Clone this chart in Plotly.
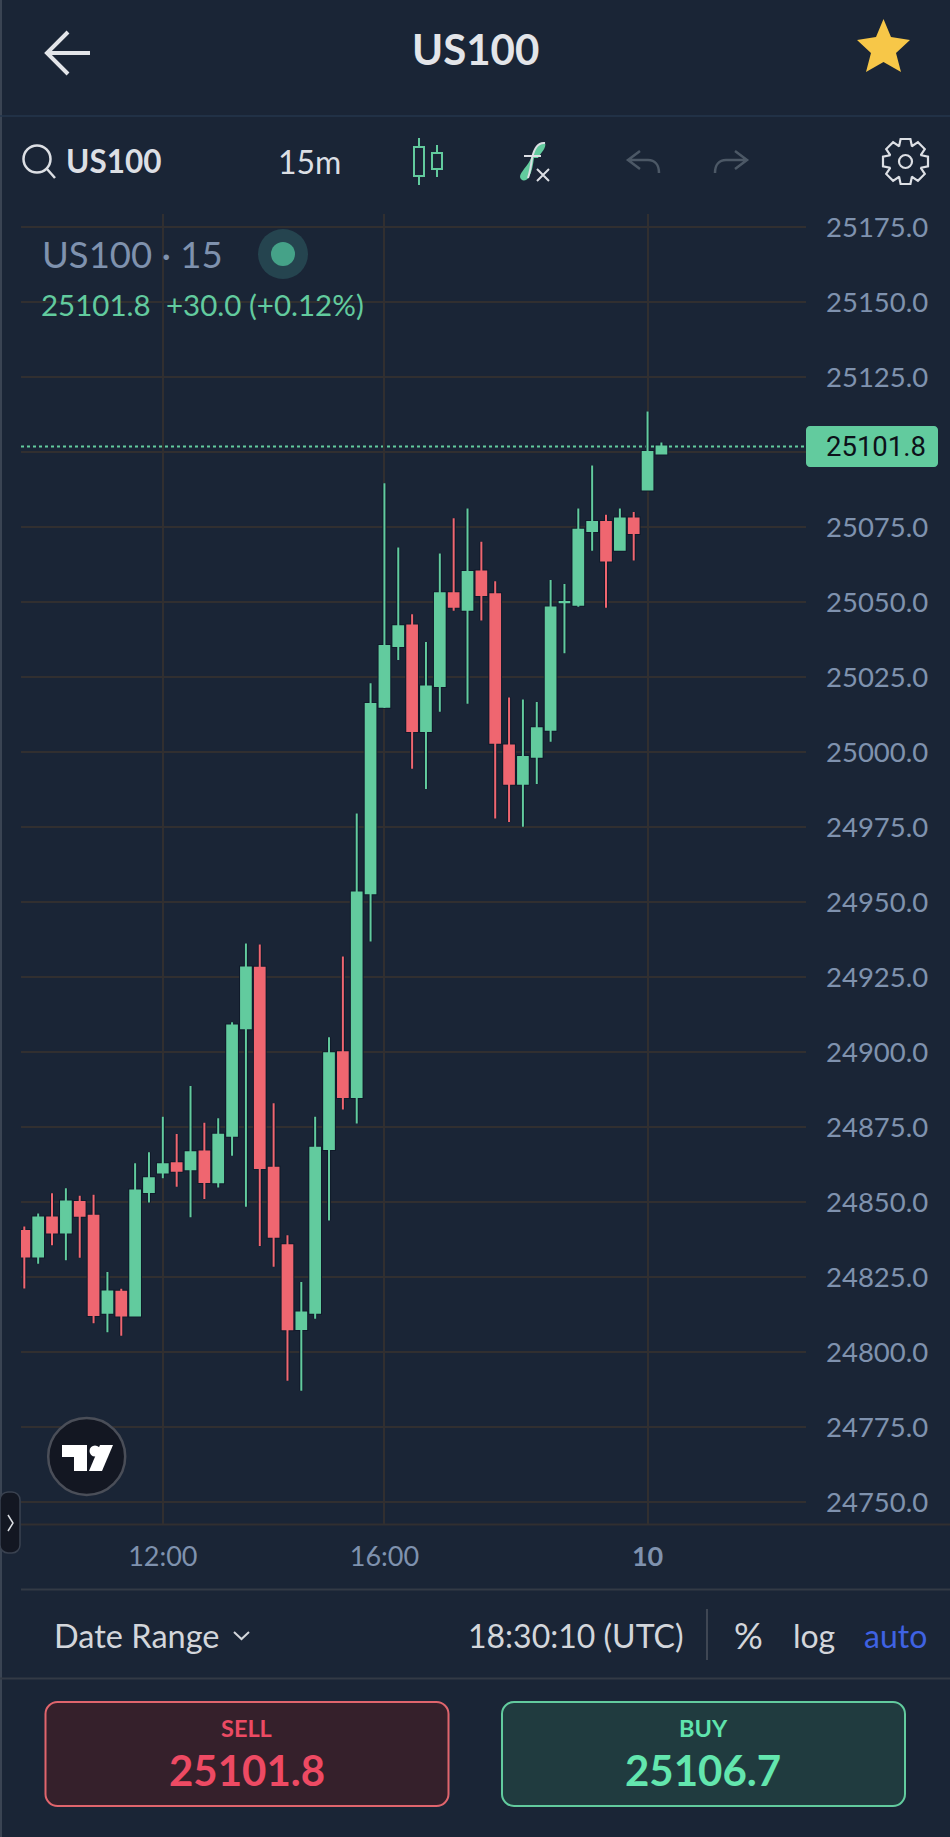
import math

import plotly.graph_objects as go

W = 950
H = 1837

BG = "#1a2536"
GREEN = "#62cb9e"
RED = "#ef6670"
GRID = "#312f30"
AXIS_TEXT = "#7f92ae"
LIGHT = "#dcdfe4"

# 15 minute bars
bars = list(range(47))
opens = [
    24840.3, 24831.8, 24844.8, 24839.8, 24850.0, 24845.4, 24813.1, 24820.1, 24812.2, 24853.3,
    24859.8, 24862.9, 24860.9, 24866.8, 24856.6, 24872.1, 24907.9, 24928.1, 24861.4, 24835.6,
    24807.7, 24813.1, 24867.7, 24899.9, 24885.0, 24952.9, 25015.1, 25035.3, 25042.2, 25007.0,
    25022.0, 25052.9, 25047.4, 25060.2, 25052.6, 25002.2, 24989.4, 24998.4, 25007.4, 25049.9,
    25049.1, 25073.7, 25076.7, 25067.4, 25077.8, 25087.5, 25099.5,
]
highs = [
    24841.8, 24846.2, 24852.9, 24854.6, 24852.1, 24852.4, 24826.7, 24821.1, 24862.9, 24866.6,
    24878.4, 24872.7, 24888.7, 24876.4, 24877.9, 24909.9, 24936.2, 24935.8, 24882.9, 24838.9,
    24823.3, 24878.4, 24904.9, 24931.8, 24979.5, 25022.9, 25089.6, 25068.2, 25045.9, 25036.7,
    25066.2, 25077.9, 25081.2, 25070.1, 25056.9, 25018.2, 25017.5, 25016.7, 25057.3, 25056.0,
    25081.2, 25095.5, 25079.1, 25081.2, 25080.0, 25113.5, 25103.2,
]
lows = [
    24821.2, 24829.4, 24835.6, 24830.6, 24831.4, 24809.6, 24806.6, 24805.4, 24811.8, 24849.8,
    24857.9, 24855.1, 24844.9, 24851.0, 24854.8, 24865.4, 24848.4, 24835.3, 24828.4, 24790.4,
    24787.1, 24811.1, 24843.8, 24880.8, 24876.2, 24936.8, 25014.7, 25030.7, 24994.4, 24987.7,
    25013.4, 25047.1, 25016.1, 25043.8, 24977.8, 24976.7, 24975.1, 24989.3, 25003.4, 25032.9,
    25048.4, 25067.1, 25048.1, 25067.4, 25063.8, 25087.5, 25099.5,
]
closes = [
    24831.8, 24844.8, 24839.8, 24850.2, 24845.4, 24812.3, 24820.2, 24812.2, 24853.8, 24857.9,
    24862.6, 24860.4, 24866.6, 24856.7, 24872.4, 24908.8, 24928.2, 24861.3, 24838.4, 24807.6,
    24813.2, 24868.1, 24899.6, 24885.0, 24953.2, 25016.0, 25035.3, 25041.9, 25007.0, 25021.8,
    25052.9, 25048.4, 25060.0, 25052.3, 25003.1, 24989.4, 24998.3, 25007.9, 25048.2, 25050.0,
    25074.1, 25076.7, 25063.8, 25077.8, 25073.0, 25100.0, 25101.8,
]
last_price = 25101.8

price_ticks = [24750 + 25 * n for n in range(18)]
# the 25100 label sits under the last price tag
price_labels = ["" if p == 25100 else f"{p:.1f}" for p in price_ticks]
time_ticks = [10, 26, 45]
time_labels = ["12:00", "16:00", "<b>10</b>"]


def px(x):
    return x / W


def py(y):
    return 1 - y / H


def pp(d):
    # path written in screen pixels, turned into paper coordinates
    out = []
    is_x = True
    for tok in d.split():
        if tok.isalpha():
            out.append(tok)
            is_x = True
        else:
            out.append(str(round(px(float(tok)) if is_x else py(float(tok)), 5)))
            is_x = not is_x
    return " ".join(out)


def rounded(x0, y0, x1, y1, r):
    c = r * 0.45
    return (
        f"M {x0 + r} {y0} L {x1 - r} {y0} C {x1 - c} {y0} {x1} {y0 + c} {x1} {y0 + r} "
        f"L {x1} {y1 - r} C {x1} {y1 - c} {x1 - c} {y1} {x1 - r} {y1} "
        f"L {x0 + r} {y1} C {x0 + c} {y1} {x0} {y1 - c} {x0} {y1 - r} "
        f"L {x0} {y0 + r} C {x0} {y0 + c} {x0 + c} {y0} {x0 + r} {y0} Z"
    )


def gear(cx, cy, r_out, r_in, teeth=8):
    pts = []
    for n in range(teeth):
        a = 2 * math.pi * n / teeth
        step = 2 * math.pi / teeth
        for da, r in [(-0.30, r_in), (-0.17, r_out), (0.17, r_out), (0.30, r_in)]:
            t = a + da * step * 1.6
            pts.append((cx + r * math.cos(t), cy + r * math.sin(t)))
    return "M " + " L ".join(f"{round(x, 1)} {round(y, 1)}" for x, y in pts) + " Z"


shapes = []
annotations = []


def icon(d, color=None, width=0, fill=None):
    shapes.append(dict(
        type="path", xref="paper", yref="paper", path=pp(d),
        line=dict(color=color or "rgba(0,0,0,0)", width=width),
        fillcolor=fill or "rgba(0,0,0,0)", layer="above",
    ))


def circle(cx, cy, r, color=None, width=0, fill=None):
    shapes.append(dict(
        type="circle", xref="paper", yref="paper",
        x0=px(cx - r), x1=px(cx + r), y0=py(cy + r), y1=py(cy - r),
        line=dict(color=color or "rgba(0,0,0,0)", width=width),
        fillcolor=fill or "rgba(0,0,0,0)", layer="above",
    ))


def label(x, y, text, size, color, anchor="left", font="Lato"):
    annotations.append(dict(
        xref="paper", yref="paper", x=px(x), y=py(y), text=text, showarrow=False,
        xanchor=anchor, yanchor="middle", borderpad=0,
        font=dict(family=font, size=size, color=color),
    ))


# dark edge round the candles, then the candles
fig = go.Figure()
fig.add_trace(go.Candlestick(
    x=bars, open=opens, high=highs, low=lows, close=closes,
    increasing=dict(line=dict(color="#101a2a", width=4), fillcolor="#101a2a"),
    decreasing=dict(line=dict(color="#101a2a", width=4), fillcolor="#101a2a"),
    whiskerwidth=0, hoverinfo="skip",
))
fig.add_trace(go.Candlestick(
    x=bars, open=opens, high=highs, low=lows, close=closes,
    increasing=dict(line=dict(color=GREEN, width=2), fillcolor=GREEN),
    decreasing=dict(line=dict(color=RED, width=2), fillcolor=RED),
    whiskerwidth=0, hoverinfo="skip",
))

# rules and frame
for x0, y0, x1, y1, color, width in [
    (1, 0, 1, H, "#3a4453", 2),
    (0, 116, W, 116, "#25364c", 1.5),
    (21, 1524.5, W, 1524.5, GRID, 2),
    (21, 1589.5, W, 1589.5, "#333a45", 2),
    (0, 1678.5, W, 1678.5, "#333a45", 2),
    (707, 1609, 707, 1660, "#3f4754", 2),
]:
    shapes.append(dict(type="line", xref="paper", yref="paper",
                       x0=px(x0), x1=px(x1), y0=py(y0), y1=py(y1),
                       line=dict(color=color, width=width), layer="above"))

# last price line and its tag
shapes.append(dict(type="line", xref="paper", yref="y", x0=px(21), x1=px(806),
                   y0=last_price, y1=last_price, layer="below",
                   line=dict(color=GREEN, width=2, dash="dot")))
icon(rounded(806, 426, 938, 467, 4), fill=GREEN)
label(825, 447, f"{last_price}", 27.5, "#0d1119", font="Roboto")

# header
icon("M 68 32 L 47 53 L 68 74 M 47 53 L 90 53", "#e3e5e9", 4)
label(475, 49, "<b>US100</b>", 42, "#e3e5e9", "center")
icon("M 883.5 19 L 891 37 L 910 40 L 896 53 L 901 72 L 883.5 62 L 866 72 L 871 53 L 857 40 L 876 37 Z",
     fill="#f7c748")

# toolbar
circle(37, 159, 13.5, LIGHT, 2.5)
icon("M 47 169 L 55 178", LIGHT, 2.5)
label(65, 161, "<b>US100</b>", 31.5, LIGHT)
label(277, 162, "15m", 32, LIGHT)
icon("M 414 147 L 424 147 L 424 176 L 414 176 Z M 419 138 L 419 147 M 419 176 L 419 185 "
     "M 432 153 L 442 153 L 442 169 L 432 169 Z M 437 145 L 437 153 M 437 169 L 437 177",
     GREEN, 2)
icon("M 545 143 C 538 142 534 149 532 158 L 538 158 C 541 153 547 147 545 143 Z", fill=GREEN)
icon("M 531 158 C 528 166 520 172 520 177 C 521 182 527 181 529 177 C 532 172 533 165 534 158 Z", fill=GREEN)
icon("M 524 156 L 541 156 M 545 143 C 538 142 534 149 532 158 C 531 166 530 172 528 178", LIGHT, 2)
icon("M 537 169 L 549 181 M 549 169 L 537 181", LIGHT, 2)
icon("M 640 151 L 628 160 L 640 169 M 628 160 L 648 160 C 655 160 659 165 659 173", "#4c5866", 2.5)
icon("M 735 151 L 747 160 L 735 169 M 747 160 L 726 160 C 719 160 715 165 715 173", "#4c5866", 2.5)
icon(gear(905.5, 161.5, 23, 17), LIGHT, 2.2)
circle(905.5, 161.5, 6.5, LIGHT, 2.2)

# study legend
label(41, 254, "US100 · 15", 36.5, AXIS_TEXT)
circle(283, 254, 25, fill="#25444f")
circle(283, 254, 12, fill="#45a288")
label(40, 304, f"{last_price}", 29.5, GREEN)
label(165, 304, "+30.0 (+0.12%)", 29.5, GREEN)

# logo and side tab
circle(86.7, 1456.5, 38.5, "#4a4e58", 2.5, "#131722")
icon("M 62 1445 L 87 1445 L 87 1471 L 74 1471 L 74 1457 L 62 1457 Z", fill="#ffffff")
circle(95, 1451, 5.5, fill="#ffffff")
icon("M 100 1445 L 113 1445 L 102 1471 L 89 1471 Z", fill="#ffffff")
icon(rounded(0, 1492, 20, 1553, 8), "#3a4250", 1.5, "#131722")
icon("M 8 1515 L 13 1523 L 8 1531", LIGHT, 1.5)

# bottom bar
label(53, 1635, "Date Range", 32.5, "#d3d6db")
icon("M 234 1632 L 241.5 1639 L 249 1632", "#d3d6db", 2)
label(467, 1635, "18:30:10 (UTC)", 32, "#d3d6db")
label(733, 1635, "%", 36, "#d3d6db")
label(792, 1635, "log", 32, "#d3d6db")
label(863, 1635, "auto", 32, "#3f62e3")

# sell and buy
icon(rounded(45.5, 1702, 448.5, 1806, 12), "#e0656d", 2, "#35202b")
icon(rounded(502, 1702, 905, 1806, 12), "#62cb9e", 2, "#203b3f")
label(246.7, 1728, "<b>SELL</b>", 23.5, "#ec4a63", "center")
label(703, 1728, "<b>BUY</b>", 23.5, "#5fe3ad", "center")
label(246.7, 1770, "<b>25101.8</b>", 42, "#ee4a63", "center")
label(703, 1770, "<b>25106.7</b>", 42, "#63e6ae", "center")

fig.update_layout(
    width=W,
    height=H,
    margin=dict(l=0, r=0, t=0, b=0),
    paper_bgcolor=BG,
    plot_bgcolor=BG,
    showlegend=False,
    boxgap=0,
    boxmode="overlay",
    font=dict(family="Lato"),
    shapes=shapes,
    annotations=annotations,
)

fig.update_xaxes(
    domain=[px(21), px(806)],
    range=[-0.24, 56.44],
    rangeslider_visible=False,
    automargin=False,
    tickmode="array",
    tickvals=time_ticks,
    ticktext=time_labels,
    tickfont=dict(family="Lato", size=27, color=AXIS_TEXT),
    ticks="",
    ticklabelstandoff=14,
    showgrid=True,
    gridcolor=GRID,
    gridwidth=2,
    zeroline=False,
    showline=False,
)

fig.update_yaxes(
    domain=[py(1524), py(214)],
    range=[24742.67, 25179.33],
    side="right",
    automargin=False,
    tickmode="array",
    tickvals=price_ticks,
    ticktext=price_labels,
    tickfont=dict(family="Lato", size=27.5, color=AXIS_TEXT),
    ticks="",
    ticklabelstandoff=19,
    showgrid=True,
    gridcolor=GRID,
    gridwidth=2,
    zeroline=False,
    showline=False,
)

fig.write_html("out.html", config=dict(displayModeBar=False),
               post_script="document.body.style.margin='0';")
